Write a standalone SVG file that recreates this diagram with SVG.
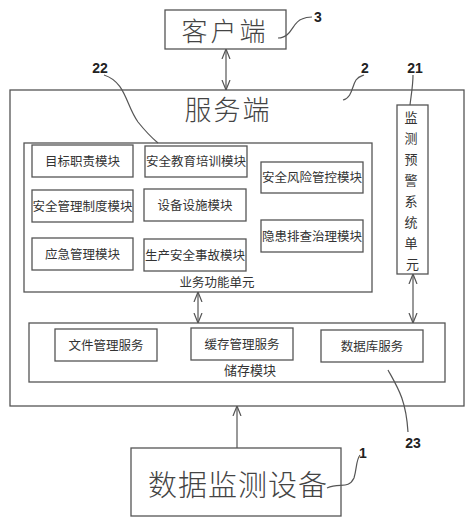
<svg xmlns="http://www.w3.org/2000/svg" width="470" height="527" viewBox="0 0 470 527">
<defs>
<style>
.b{fill:#fff;stroke:#555;stroke-width:1.3}
.c{fill:none;stroke:#555;stroke-width:1.2}
.t{font-family:"Noto Sans CJK SC","Noto Sans CJK JP",sans-serif;fill:#333;text-anchor:middle}
.big{font-weight:300;fill:#444}
.m{font-size:12.5px}
.n{font-family:"Liberation Sans",sans-serif;font-weight:bold;font-size:14px;fill:#222;text-anchor:middle}
</style>
<marker id="ah" viewBox="0 0 10 10" refX="10" refY="5" markerWidth="10" markerHeight="10" markerUnits="userSpaceOnUse" orient="auto-start-reverse">
<path d="M0,1 L10,5 L0,9" fill="none" stroke="#555" stroke-width="1.2"/>
</marker>
</defs>
<rect width="470" height="527" fill="#fff"/>

<g id="client">
<rect class="b" x="165" y="10" width="121" height="39"/>
<text class="t big" x="225" y="41" font-size="26" letter-spacing="3">客户端</text>
</g>

<g id="server">
<rect class="b" x="10" y="90" width="454" height="316"/>
<text class="t big" x="228" y="120" font-size="27" letter-spacing="2">服务端</text>
</g>

<g id="business">
<rect class="b" x="24" y="143" width="348" height="149"/>
<text class="t m" x="217" y="287">业务功能单元</text>
</g>
<g id="m1"><rect class="b" x="32" y="145" width="101" height="32"/><text class="t m" x="82.5" y="166">目标职责模块</text></g>
<g id="m2"><rect class="b" x="145" y="146" width="102" height="31"/><text class="t m" x="196" y="166">安全教育培训模块</text></g>
<g id="m3"><rect class="b" x="261" y="162" width="102" height="31"/><text class="t m" x="312" y="182">安全风险管控模块</text></g>
<g id="m4"><rect class="b" x="32" y="190" width="101" height="32"/><text class="t m" x="82.5" y="211">安全管理制度模块</text></g>
<g id="m5"><rect class="b" x="144" y="189" width="102" height="32"/><text class="t m" x="195" y="210">设备设施模块</text></g>
<g id="m6"><rect class="b" x="261" y="220" width="102" height="32"/><text class="t m" x="312" y="241">隐患排查治理模块</text></g>
<g id="m7"><rect class="b" x="32" y="238" width="101" height="32"/><text class="t m" x="82.5" y="259">应急管理模块</text></g>
<g id="m8"><rect class="b" x="144" y="239" width="102" height="32"/><text class="t m" x="195" y="260">生产安全事故模块</text></g>

<g id="monitor">
<rect class="b" x="397" y="105" width="31" height="169"/>
<text class="t" font-size="13">
<tspan x="412.5" y="122">监</tspan>
<tspan x="412.5" y="143">测</tspan>
<tspan x="412.5" y="164">预</tspan>
<tspan x="412.5" y="185">警</tspan>
<tspan x="412.5" y="206">系</tspan>
<tspan x="412.5" y="227">统</tspan>
<tspan x="412.5" y="248">单</tspan>
<tspan x="412.5" y="269">元</tspan>
</text>
</g>

<g id="storage">
<rect class="b" x="29" y="323" width="416" height="59"/>
<text class="t" font-size="13" x="250" y="375">储存模块</text>
</g>
<g id="s1"><rect class="b" x="55" y="329" width="102" height="32"/><text class="t m" x="106" y="350">文件管理服务</text></g>
<g id="s2"><rect class="b" x="191" y="328" width="102" height="32"/><text class="t m" x="242" y="349">缓存管理服务</text></g>
<g id="s3"><rect class="b" x="321" y="330" width="102" height="32"/><text class="t m" x="372" y="351">数据库服务</text></g>

<g id="device">
<rect class="b" x="131" y="448" width="210" height="68"/>
<text class="t big" x="238" y="496" font-size="29" letter-spacing="1">数据监测设备</text>
</g>

<g id="connectors">
<line class="c" x1="226" y1="49" x2="226" y2="90" marker-start="url(#ah)" marker-end="url(#ah)"/>
<line class="c" x1="198" y1="292" x2="198" y2="323" marker-start="url(#ah)" marker-end="url(#ah)"/>
<line class="c" x1="413" y1="274" x2="413" y2="323" marker-start="url(#ah)" marker-end="url(#ah)"/>
<line class="c" x1="237" y1="448" x2="237" y2="406" marker-end="url(#ah)"/>
</g>

<g id="labels">
<path class="c" d="M278,38 C292,38 292,22 302,19 C306,17 309,17 312,17"/>
<text class="n" x="318" y="22">3</text>
<path class="c" d="M343,100 C352,98 352,86 356,80 C359,76 362,76 364,75"/>
<text class="n" x="365" y="73">2</text>
<path class="c" d="M413,75 C413,86 411,96 410,105"/>
<text class="n" x="415" y="73">21</text>
<path class="c" d="M104,75 C126,82 126,106 138,122 C146,132 152,138 158,143"/>
<text class="n" x="100" y="73">22</text>
<path class="c" d="M388,370 C398,388 406,400 408,432"/>
<text class="n" x="413" y="448">23</text>
<path class="c" d="M327,488 C340,482 348,490 354,478 C357,468 356,460 360,455"/>
<text class="n" x="363" y="458">1</text>
</g>
</svg>
